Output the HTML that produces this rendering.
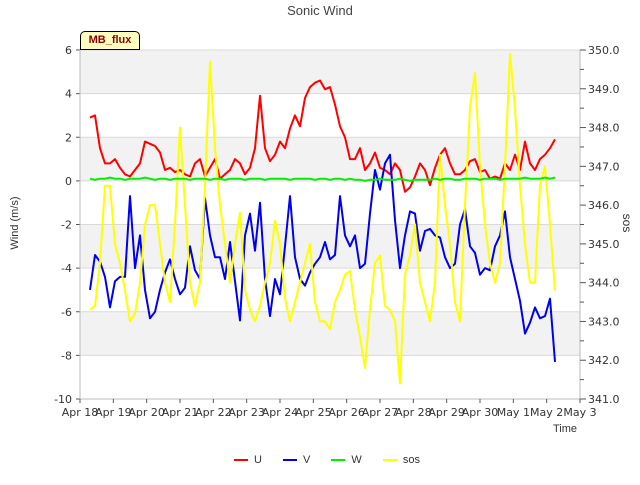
<!DOCTYPE html>
<html><head><meta charset="utf-8"><style>
body{margin:0;background:#fff;font-family:"Liberation Sans","DejaVu Sans",sans-serif}
svg text{font-family:"DejaVu Sans","Liberation Sans",sans-serif}
</style></head><body>
<svg id="c" width="640" height="480" xmlns="http://www.w3.org/2000/svg"></svg>
<script>
const xLabels=["Apr 18","Apr 19","Apr 20","Apr 21","Apr 22","Apr 23","Apr 24","Apr 25","Apr 26","Apr 27","Apr 28","Apr 29","Apr 30","May 1","May 2","May 3"];
const leftTicks=[-10,-8,-6,-4,-2,0,2,4,6];
const rightTicks=[341,342,343,344,345,346,347,348,349,350];
const startDay=0.3, stepDay=0.15;
const uVals=[2.9,3.0,1.5,0.8,0.8,1.0,0.6,0.3,0.2,0.5,0.8,1.8,1.7,1.6,1.3,0.5,0.6,0.4,0.5,0.3,0.2,0.8,1.0,0.2,0.6,1.0,0.1,0.3,0.5,1.0,0.8,0.3,0.6,1.5,3.9,1.5,0.9,1.2,1.8,1.5,2.4,3.0,2.5,3.8,4.3,4.5,4.6,4.2,4.3,3.5,2.5,2.0,1.0,1.0,1.5,0.5,0.8,1.3,0.6,0.5,0.3,0.8,0.5,-0.5,-0.3,0.2,0.8,0.5,-0.2,0.6,1.2,1.5,0.8,0.3,0.3,0.5,0.9,1.0,0.4,0.5,0.1,0.2,0.1,0.8,0.5,1.2,0.5,1.8,0.8,0.5,1.0,1.2,1.5,1.9];
const vVals=[-5.0,-3.4,-3.7,-4.4,-5.8,-4.6,-4.4,-4.4,-0.7,-4.0,-2.5,-5,-6.3,-6.0,-5,-4.2,-3.6,-4.5,-5.2,-4.9,-3,-4.1,-4.5,-0.8,-2.5,-3.5,-3.5,-4.5,-2.8,-4.6,-6.4,-2.5,-1.5,-3.2,-1,-4.5,-6.2,-4.5,-5.2,-3,-0.7,-3.5,-4.5,-4.8,-4.2,-3.8,-3.5,-2.8,-3.6,-3.4,-0.7,-2.5,-3,-2.5,-4,-3.8,-1.5,0.5,-0.4,0.8,1.2,-1.8,-4,-2.5,-1.4,-1.5,-3.2,-2.3,-2.2,-2.5,-2.6,-3.5,-4.0,-3.8,-2.0,-1.3,-3.0,-3.3,-4.3,-4.0,-4.1,-3.0,-2.5,-1.4,-3.5,-4.5,-5.5,-7.0,-6.5,-5.8,-6.3,-6.2,-5.4,-8.3];
const wVals=[0.1,0.05,0.1,0.1,0.15,0.1,0.1,0.05,0.1,0.1,0.1,0.15,0.1,0.05,0.1,0.1,0.05,0.1,0.1,0.1,0.05,0.1,0.1,0.1,0.05,0.1,0.1,0.05,0.1,0.1,0.1,0.05,0.1,0.1,0.1,0.05,0.1,0.1,0.1,0.1,0.05,0.1,0.1,0.1,0.1,0.05,0.1,0.1,0.05,0.1,0.1,0.05,0.1,0.05,0.05,0.0,0.05,0.05,0.1,0.05,0.05,0.05,0.1,0.05,0.0,0.05,0.05,0.05,0.05,0.1,0.05,0.1,0.1,0.05,0.05,0.1,0.1,0.1,0.05,0.1,0.1,0.1,0.05,0.1,0.1,0.1,0.1,0.15,0.1,0.1,0.1,0.15,0.1,0.15];
const sosVals=[343.3,343.4,344.5,346.5,346.5,345,344.5,343.8,343,343.2,344,345.5,346,346,345,344,343.5,345.5,348,346,344,343.4,344,346.5,349.7,347.5,346,345,344,345,345.8,343.8,343.3,343,343.4,344,344.5,345.6,345,343.6,343,343.5,344,344.5,345,343.5,343,343,342.8,343.5,343.8,344.2,344.3,343.3,342.6,341.8,343.3,344.5,344.7,343.4,343.3,343,341.4,344.2,344.7,345.5,344,343.5,343,344,347.3,346,345,343.5,343,346,348.5,349.4,347,345.5,344.5,344,344.5,347,349.9,348.5,346.5,345,344,344,346.5,347,345.5,343.8];

const NS="http://www.w3.org/2000/svg";
const svg=document.getElementById('c');
const L=80,R=580,T=50,B=399;
const xS=d=>L+(R-L)*d/15;
const yL=v=>T+(B-T)*(6-v)/16;
const yR=v=>T+(B-T)*(350-v)/9;
function mk(tag,attrs,parent){const e=document.createElementNS(NS,tag);for(const k in attrs)e.setAttribute(k,attrs[k]);(parent||svg).appendChild(e);return e;}
// bands
for(let v=-8;v<6;v+=2){
  if([4,0,-4,-8].includes(v)){
    const b=mk('rect',{x:L,y:yL(v+2),width:R-L,height:yL(v)-yL(v+2),fill:'#f2f2f2'});
    
    
  }
}
leftTicks.forEach(v=>{
  const g=mk('line',{x1:L,x2:R,y1:yL(v),y2:yL(v),stroke:'#d9d9d9','stroke-width':1});
  
  
  const t=mk('line',{x1:L-4,x2:L,y1:yL(v),y2:yL(v),stroke:'#555'});
  const lb=mk('text',{x:L-8,y:yL(v)+4,'text-anchor':'end','font-size':11,fill:'#333'});
  lb.textContent=v;
  
  
});
mk('line',{x1:L,x2:L,y1:T,y2:B,stroke:'#bbb'});
mk('line',{x1:R,x2:R,y1:T,y2:B,stroke:'#bbb'});
mk('line',{x1:L,x2:R,y1:B,y2:B,stroke:'#bbb'});
rightTicks.forEach(v=>{
  mk('line',{x1:R,x2:R+6,y1:yR(v),y2:yR(v),stroke:'#555'});
  if(v<350) mk('line',{x1:R,x2:R+4,y1:yR(v+0.5),y2:yR(v+0.5),stroke:'#555'});
  const lb=mk('text',{x:R+8,y:yR(v)+4,'font-size':11,fill:'#333'});
  lb.textContent=v.toFixed(1);
  
  
});
xLabels.forEach((s,i)=>{
  mk('line',{x1:xS(i),x2:xS(i),y1:B,y2:B+4,stroke:'#555'});
  const lb=mk('text',{x:xS(i),y:B+17,'text-anchor':'middle','font-size':11,fill:'#333'});
  lb.textContent=s;
  
  
});
function series(vals,yf,color,name){
  const pts=vals.map((v,i)=>xS(startDay+i*stepDay).toFixed(1)+','+yf(v).toFixed(1)).join(' ');
  const p=mk('polyline',{points:pts,fill:'none',stroke:color,'stroke-width':2,'stroke-linejoin':'round'});
  
  
}
series(uVals,yL,'#ff0000','series-u');
series(vVals,yL,'#0000ee','series-v');
series(sosVals,yR,'#ffff00','series-sos');
series(wVals,yL,'#00ee00','series-w');
</script>
<div style="position:absolute;left:0;top:0;width:640px;height:480px;pointer-events:none">
<div style="position:absolute;left:0;width:640px;top:3px;text-align:center;font-size:13px;color:#444">Sonic Wind</div>
<div style="position:absolute;left:-20px;top:217px;width:70px;text-align:center;font-size:11px;color:#333;transform:rotate(-90deg)">Wind (m/s)</div>
<div style="position:absolute;left:607px;top:216px;width:40px;text-align:center;font-size:12px;color:#333;transform:rotate(90deg)">sos</div>
<div style="position:absolute;left:553px;top:423px;font-size:11px;color:#333">Time</div>
<div style="position:absolute;left:80px;top:31px;width:58px;height:17px;background:#ffffc0;border:1px solid #000;border-radius:5px 5px 0 0;font-size:11px;font-weight:bold;color:#8b0000;text-align:center;line-height:17px">MB_flux</div>
<div style="position:absolute;top:454px;left:234px;font-size:11px;color:#333;white-space:nowrap">
<span><span style="display:inline-block;width:14px;height:2px;background:#f00;vertical-align:middle;margin-right:6px"></span>U</span>
<span style="margin-left:18px"><span style="display:inline-block;width:14px;height:2px;background:#00e;vertical-align:middle;margin-right:6px"></span>V</span>
<span style="margin-left:18px"><span style="display:inline-block;width:14px;height:2px;background:#0e0;vertical-align:middle;margin-right:6px"></span>W</span>
<span style="margin-left:18px"><span style="display:inline-block;width:14px;height:2px;background:#ff0;vertical-align:middle;margin-right:6px"></span>sos</span>
</div>
</div>
</body></html>
